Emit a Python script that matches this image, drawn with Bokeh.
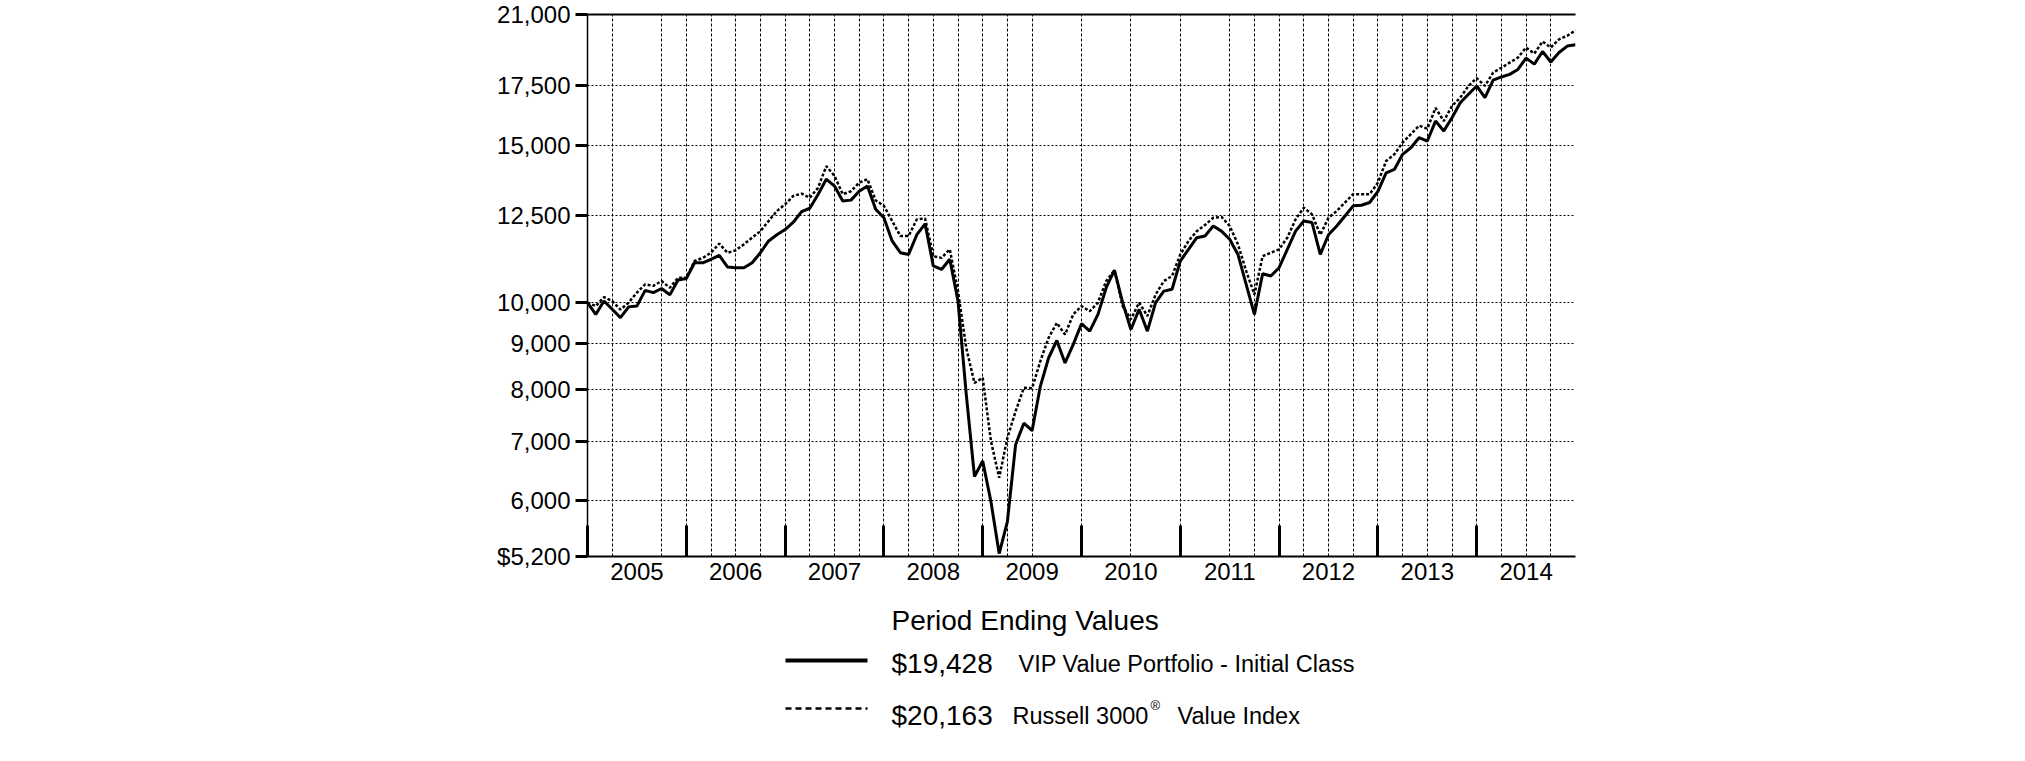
from bokeh.plotting import figure
from bokeh.models import Range1d, FixedTicker, LinearAxis
from bokeh.layouts import column
from bokeh.embed import file_html
from bokeh.resources import INLINE
from bokeh.core.properties import value

FONT = "Liberation Sans"

# ---------------- data ----------------
years = ["2005", "2006", "2007", "2008", "2009", "2010", "2011", "2012", "2013", "2014"]
month_index = list(range(121))  # 0 = Dec 2004 ... 120 = Dec 2014

vip_value = [
    10000, 9700, 10040, 9830, 9620, 9890, 9910, 10320, 10260, 10370, 10200, 10600,
    10640, 11080, 11080, 11180, 11290, 10960, 10940, 10940, 11080, 11370, 11720, 11910,
    12070, 12300, 12640, 12750, 13210, 13740, 13500, 12990, 13020, 13320, 13500, 12720,
    12440, 11720, 11370, 11320, 11910, 12250, 10990, 10890, 11180, 10040, 7900, 6390,
    6650, 5990, 5240, 5690, 6940, 7330, 7190, 8060, 8670, 9070, 8560, 8980,
    9470, 9290, 9700, 10390, 10870, 10000, 9330, 9830, 9290, 10000, 10300, 10350,
    11130, 11470, 11820, 11870, 12180, 12020, 11770, 11320, 10480, 9700, 10770, 10710,
    10940, 11470, 12020, 12340, 12290, 11320, 11910, 12180, 12500, 12830, 12850, 12940,
    13320, 13970, 14090, 14650, 14900, 15290, 15160, 15960, 15560, 16100, 16730, 17100,
    17470, 16950, 17730, 17880, 18000, 18230, 18770, 18480, 19090, 18580, 19040, 19360,
    19428,
]

russell_3000_value = [
    10000, 9910, 10140, 10040, 9820, 10000, 10260, 10480, 10440, 10570, 10390, 10660,
    10660, 11130, 11220, 11370, 11640, 11370, 11440, 11620, 11820, 12020, 12340, 12660,
    12880, 13160, 13240, 13100, 13440, 14210, 13860, 13220, 13320, 13620, 13740, 13010,
    12830, 12340, 11870, 11870, 12390, 12420, 11270, 11220, 11470, 10300, 8900, 8130,
    8240, 7000, 6370, 7060, 7560, 8030, 8020, 8600, 9130, 9490, 9210, 9700,
    9910, 9780, 10000, 10570, 10870, 9910, 9580, 10000, 9660, 10210, 10570, 10710,
    11320, 11720, 12020, 12210, 12440, 12470, 12180, 11620, 10850, 10210, 11270, 11370,
    11470, 11820, 12390, 12770, 12550, 11910, 12440, 12660, 12940, 13220, 13220, 13220,
    13620, 14400, 14650, 15100, 15430, 15770, 15650, 16510, 15960, 16590, 16950, 17470,
    17830, 17470, 18080, 18310, 18550, 18790, 19290, 18990, 19590, 19290, 19700, 19880,
    20163,
]

y_ticks = [5200, 6000, 7000, 8000, 9000, 10000, 12500, 15000, 17500, 21000]
y_tick_labels = ["$5,200", "6,000", "7,000", "8,000", "9,000", "10,000",
                 "12,500", "15,000", "17,500", "21,000"]

# quarter-end months that carry a vertical grid line in the original
grid_months = [3, 9, 12, 15, 18, 21, 24, 27, 30, 33, 36, 39, 42, 45, 48, 51, 54, 60,
               66, 72, 78, 81, 84, 87, 90, 93, 96, 99, 102, 105, 108, 111, 114, 117]

legend_title = "Period Ending Values"
series_names = ["VIP Value Portfolio -  Initial Class", "Russell 3000", "\u00ae", "Value Index"]

# ---------------- chart ----------------
FRAME_L, FRAME_R = 587, 1575
W = 2000
p = figure(width=W, height=598,
           x_range=Range1d(0, 120), y_range=Range1d(5200, 21000),
           y_axis_type="log", output_backend="svg", toolbar_location=None,
           min_border_left=FRAME_L, min_border_right=W - FRAME_R,
           min_border_top=14, min_border_bottom=42)
p.outline_line_color = None
p.background_fill_color = "white"
p.border_fill_color = "white"

p.line(month_index, vip_value, line_color="black", line_width=3)
p.line(month_index, russell_3000_value, line_color="black", line_width=2.5, line_dash="3 2")

# x axis: labels mid-year, ticks at year boundaries (minor ticks, pointing inward)
xa = p.xaxis[0]
mid_year = [6 + 12 * i for i in range(len(years))]
xa.ticker = FixedTicker(ticks=mid_year, minor_ticks=[12 * i for i in range(len(years))])
xa.major_label_overrides = {m: y for m, y in zip(mid_year, years)}
xa.major_tick_line_color = None
xa.major_tick_in = 0
xa.major_tick_out = 0
xa.minor_tick_in = 31
xa.minor_tick_out = 0
xa.minor_tick_line_width = 3
xa.minor_tick_line_color = "black"
xa.axis_line_width = 2
xa.axis_line_color = "black"
xa.major_label_standoff = 6
xa.major_label_text_font = FONT
xa.major_label_text_font_size = "24px"
xa.major_label_text_color = "black"

ya = p.yaxis[0]
ya.ticker = FixedTicker(ticks=y_ticks)
ya.major_label_overrides = {t: s for t, s in zip(y_ticks, y_tick_labels)}
ya.major_tick_out = 12
ya.major_tick_in = 0
ya.major_tick_line_width = 3
ya.major_tick_line_color = "black"
ya.minor_tick_line_color = None
ya.axis_line_width = 1.5
ya.axis_line_color = "black"
ya.major_label_standoff = 5
ya.major_label_text_font = FONT
ya.major_label_text_font_size = "24px"
ya.major_label_text_color = "black"

top_axis = LinearAxis(ticker=FixedTicker(ticks=[]), major_tick_line_color=None,
                      minor_tick_line_color=None, major_label_text_font_size="0px",
                      axis_line_width=2, axis_line_color="black",
                      major_tick_out=0, major_tick_in=0, major_label_standoff=0)
p.add_layout(top_axis, "above")

p.xgrid.ticker = FixedTicker(ticks=grid_months)
p.xgrid.grid_line_color = "black"
p.xgrid.grid_line_width = 1
p.xgrid.grid_line_dash = "3 2"
p.ygrid.ticker = FixedTicker(ticks=y_ticks[1:-1])
p.ygrid.grid_line_color = "black"
p.ygrid.grid_line_width = 1
p.ygrid.grid_line_dash = "2 2"

# ---------------- legend block ----------------
# (its frame is aligned with the chart frame by the column layout, so the
#  x range is expressed in page pixels of that frame)
TOP = 598
leg = figure(width=W, height=150, x_range=Range1d(FRAME_L, FRAME_R), y_range=Range1d(150, 0),
             output_backend="svg", toolbar_location=None, min_border=0,
             min_border_left=FRAME_L, min_border_right=W - FRAME_R,
             x_axis_type=None, y_axis_type=None)
leg.outline_line_color = None
leg.background_fill_color = "white"
leg.border_fill_color = "white"
leg.grid.visible = False

final_vals = ["${:,}".format(vip_value[-1]), "${:,}".format(russell_3000_value[-1])]

leg.text(x=[891], y=[620 - TOP], text=[legend_title], text_font=value(FONT),
         text_font_size="28px", text_baseline="alphabetic", text_color="black")
leg.line([785, 867], [660 - TOP, 660 - TOP], line_color="black", line_width=4)
leg.line([785, 867], [708 - TOP, 708 - TOP], line_color="black", line_width=2.5, line_dash="6 4")
leg.text(x=[891, 891], y=[663 - TOP, 715 - TOP], text=final_vals, text_font=value(FONT),
         text_font_size="28px", text_baseline="alphabetic", text_color="black")
leg.text(x=[1018, 1012, 1177], y=[663 - TOP, 715 - TOP, 715 - TOP],
         text=[series_names[0], series_names[1], series_names[3]],
         text_font=value(FONT), text_font_size="23.5px", text_baseline="alphabetic",
         text_color="black")
leg.text(x=[1150], y=[705 - TOP], text=[series_names[2]], text_font=value(FONT),
         text_font_size="13px", text_baseline="alphabetic", text_color="black")

layout = column(p, leg)
open("out.html", "w").write(file_html(layout, INLINE))
